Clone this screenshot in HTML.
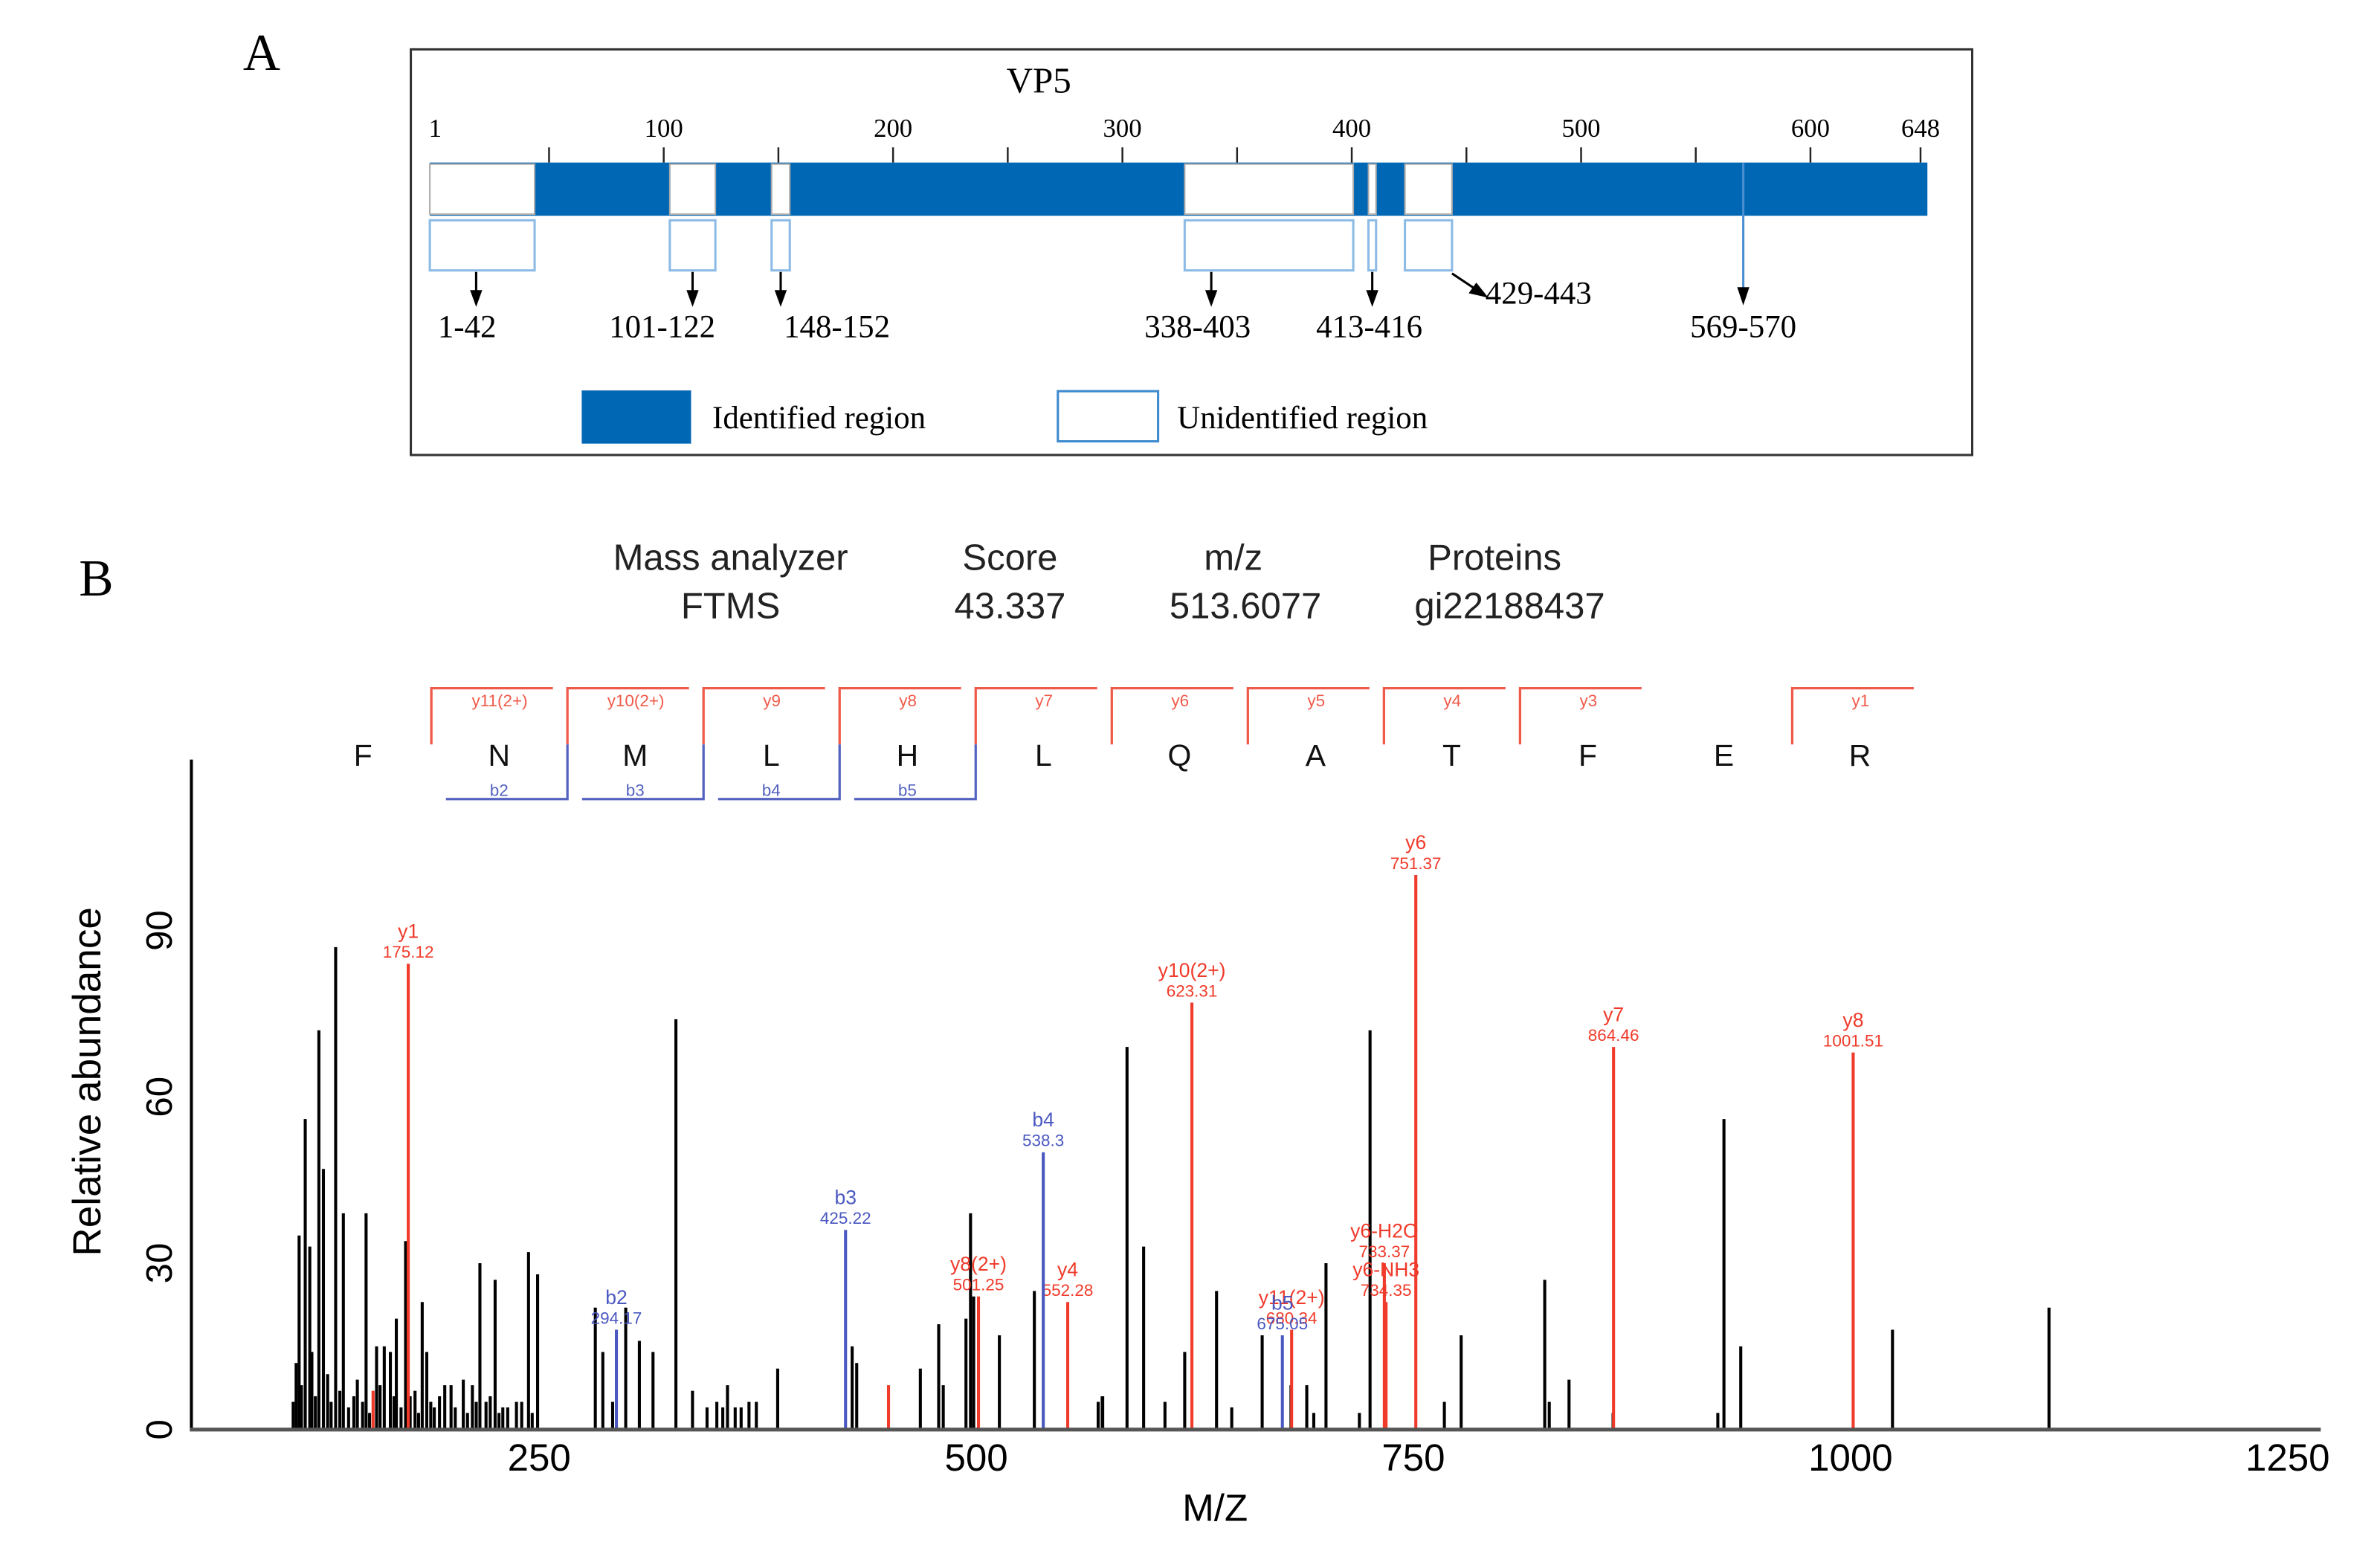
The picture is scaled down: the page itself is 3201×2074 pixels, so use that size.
<!DOCTYPE html>
<html><head><meta charset="utf-8"><style>
html,body{margin:0;padding:0;background:#fff}
svg{display:block}
.serif{font-family:"Liberation Serif",serif}
.sans{font-family:"Liberation Sans","DejaVu Sans",sans-serif}
</style></head><body>
<svg id="fig" width="3201" height="2074" viewBox="0 0 1567 1015" preserveAspectRatio="none" xmlns="http://www.w3.org/2000/svg">
<g id="panelA">
<text x="160" y="46" class="serif" font-size="34">A</text>
<rect x="270.5" y="32.5" width="1028" height="267" fill="none" stroke="#333" stroke-width="1.5"/>
<text x="684" y="61" class="serif" font-size="24" text-anchor="middle">VP5</text>
<g id="scale"></g>
<g id="bar"></g>
<g id="regions"></g>
<rect x="383" y="257" width="72" height="35" fill="#0067b5"/>
<text x="469" y="282" class="serif" font-size="21">Identified region</text>
<rect x="696.5" y="257.5" width="66" height="33" fill="#fff" stroke="#3d8ad0" stroke-width="1.5"/>
<text x="775" y="282" class="serif" font-size="21">Unidentified region</text>
</g>
<g id="panelB">
<text x="52" y="392" class="serif" font-size="34">B</text>
<g class="sans" font-size="24" text-anchor="middle" fill="#222">
<text x="481" y="375">Mass analyzer</text>
<text x="481" y="407">FTMS</text>
<text x="665" y="375">Score</text>
<text x="665" y="407">43.337</text>
<text x="812" y="375">m/z</text>
<text x="820" y="407">513.6077</text>
<text x="984" y="375">Proteins</text>
<text x="994" y="407">gi22188437</text>
</g>
<g id="seq"></g>
<g id="chart"></g>
</g>
</svg>
<script>
// ---------- Panel A data ----------
const scaleTicks = [50,100,150,200,250,300,350,400,450,500,550,600,648];
const scaleLabels = ["1","100","200","300","400","500","600","648"];
const scaleLabelPos = [1,100,200,300,400,500,600,648];
const gapStarts = [1,101,148,338,413,429];
const gapEnds = [42,122,152,403,416,443];
const gapLabels = ["1-42","101-122","148-152","338-403","413-416","429-443"];
const pointSite = [569,570];

// ---------- Panel B data ----------
const seqLetters = ["F","N","M","L","H","L","Q","A","T","F","E","R"];
const yIons = ["y11(2+)","y10(2+)","y9","y8","y7","y6","y5","y4","y3","","y1"];
const bIons = ["b2","b3","b4","b5"];
const blackMz = [109.3,112.7,116.2,118.8,124.0,126.6,133.6,138.0,151.0,157.0,161.4,164.9,168.3,173.6,176.2,183.1,185.7,199.6,206.6,211.8,216.1,219.6,224.8,229.2,237.0,243.9,249.1,282.1,286.4,299.5,307.3,315.1,328.2,337.7,351.6,357.7,362.1,365.5,374.2,386.4,429.0,431.6,468.0,478.5,481.1,494.1,496.7,498.5,513.2,533.2,569.7,572.3,586.2,595.7,607.9,619.2,637.4,646.1,663.5,680.0,693.0,700.0,719.1,725.2,767.7,777.3,825.1,827.7,839.0,864.2,924.1,927.6,937.2,1024.0,1113.5,
 111,114,120,122,129,131,136,141,144,146,149,153,159,167,171,179,181,188,190,193,196,202,209,214,222,227,232,240,246,
 292,346,370,355,689,572];
const blackInt = [5,35,56,33,72,47,87,39,39,15,15,14,20,34,6,23,14,8,9,8,30,5,27,4,5,32,28,22,14,22,16,14,74,7,5,8,4,4,5,11,15,12,11,19,8,20,39,24,17,25,5,6,69,33,5,14,25,4,17,8,3,30,3,72,5,17,27,5,9,3,3,56,15,18,22,
 12,8,14,6,10,5,7,4,6,9,5,3,8,6,4,7,3,5,4,6,8,4,3,5,6,3,4,5,3,
 5,4,5,4,8,6];
const redMz = [155.0,175.12,449.8,501.25,552.28,623.31,680.34,733.37,734.35,751.37,864.46,1001.51];
const redInt = [7,84,8,24,23,77,18,30,23,100,69,68];
const redName = ["","y1","","y8(2+)","y4","y10(2+)","y11(2+)","y6-H2O","y6-NH3","y6","y7","y8"];
const redVal = ["","175.12","","501.25","552.28","623.31","680.34","733.37","734.35","751.37","864.46","1001.51"];
const blueMz = [294.17,425.22,538.3,675.05];
const blueInt = [18,36,50,17];
const blueName = ["b2","b3","b4","b5"];
const blueVal = ["294.17","425.22","538.3","675.05"];
const xTicks = [250,500,750,1000,1250];
const yTicks = [0,30,60,90];

const NS="http://www.w3.org/2000/svg";
function mk(parent,tag,attrs,text){const e=document.createElementNS(NS,tag);for(const k in attrs)e.setAttribute(k,attrs[k]);if(text!==undefined)e.textContent=text;parent.appendChild(e);return e;}

// Panel A: tick scale (linear) and bar scale (piecewise, as drawn in the source figure)
const rx = r => 286 + r*1.51;
const knotR=[1,42,101,122,148,152,338,403,413,416,429,443,569,648];
const knotP=[283,352,441,471,508,520,780,891,901,906,925,956,1147,1269];
function bx(r){for(let i=0;i<knotR.length-1;i++){if(r<=knotR[i+1]){const t=(r-knotR[i])/(knotR[i+1]-knotR[i]);return knotP[i]+t*(knotP[i+1]-knotP[i]);}}return knotP[knotP.length-1];}
const arrowShift=[-4,0,0,-38,0,0];
const labelShift=[-6,-20,37,-9,-2,0];

const sc=document.getElementById('scale');
scaleTicks.forEach(t=>{const l=mk(sc,'line',{x1:rx(t),x2:rx(t),y1:97,y2:107,stroke:'#222','stroke-width':1.2});

});
scaleLabels.forEach((s,i)=>{const t=mk(sc,'text',{x:rx(scaleLabelPos[i])-(i==0?1:0),y:90,'font-size':17,'text-anchor':'middle',class:'serif'},s);

});
const bar=document.getElementById('bar');
const b0=mk(bar,'rect',{x:bx(1),y:107,width:bx(648)-bx(1),height:35,fill:'#0067b5'});


const rg=document.getElementById('regions');
gapStarts.forEach((s,i)=>{const x1=bx(s),x2=bx(gapEnds[i]);
const w=mk(bar,'rect',{x:x1,y:108,width:Math.max(x2-x1,3),height:33,fill:'#fff',stroke:'#aaa','stroke-width':1});


const o=mk(rg,'rect',{x:x1,y:145,width:Math.max(x2-x1,3),height:33,fill:'none',stroke:'#8cbbe6','stroke-width':1.5});


const cx=(x1+x2)/2+arrowShift[i];
if(i==5){const a=mk(rg,'path',{d:`M${x2} 180 L${x2+18} 192`,stroke:'#000','stroke-width':1.5});


const h=mk(rg,'path',{d:`M${x2+24} 196 l-13 -3 l5 -7 z`,fill:'#000'});


const t=mk(rg,'text',{x:x2+22,y:200,'font-size':21,class:'serif'},gapLabels[i]);

}
else{const a=mk(rg,'line',{x1:cx,x2:cx,y1:179,y2:192,stroke:'#000','stroke-width':1.5});


const h=mk(rg,'path',{d:`M${cx-4} 191 L${cx+4} 191 L${cx} 202 z`,fill:'#000'});


const t=mk(rg,'text',{x:cx+labelShift[i],y:222,'font-size':21,'text-anchor':'middle',class:'serif'},gapLabels[i]);

}
});
{const px=bx((pointSite[0]+pointSite[1])/2);
const l=mk(rg,'line',{x1:px,x2:px,y1:107,y2:192,stroke:'#4a8fd0','stroke-width':1.5});


const h=mk(rg,'path',{d:`M${px-4} 189 L${px+4} 189 L${px} 201 z`,fill:'#000'});


const t=mk(rg,'text',{x:px,y:222,'font-size':21,'text-anchor':'middle',class:'serif'},pointSite.join('-'));

}

// Panel B sequence map
const seq=document.getElementById('seq');
const lx=i=>239+i*89.6;
seqLetters.forEach((c,i)=>{const t=mk(seq,'text',{x:lx(i),y:504,'font-size':20,'text-anchor':'middle',class:'sans',fill:'#111'},c);

});
yIons.forEach((n,i)=>{if(!n)return;const x0=lx(i)+45;
const p=mk(seq,'path',{d:`M${x0} 490 V453 H${x0+80}`,fill:'none',stroke:'#f05a4a','stroke-width':1.6});


const t=mk(seq,'text',{x:x0+45,y:465,'font-size':11,'text-anchor':'middle',class:'sans',fill:'#f05a4a'},n);

});
bIons.forEach((n,i)=>{const x1=lx(i+1)+45;
const p=mk(seq,'path',{d:`M${x1-80} 526 H${x1} V490`,fill:'none',stroke:'#5563c0','stroke-width':1.6});


const t=mk(seq,'text',{x:x1-45,y:524,'font-size':11,'text-anchor':'middle',class:'sans',fill:'#5563c0'},n);

});

// Chart
const ch=document.getElementById('chart');
const xS=m=>355+(m-250)*1.1512;
const yS=v=>941-v*3.65;
blackMz.forEach((m,i)=>{const l=mk(ch,'line',{x1:xS(m),x2:xS(m),y1:941,y2:yS(blackInt[i]),stroke:'#000','stroke-width':2});

});
function ions(mz,it,nm,vl,col,nameKey){mz.forEach((m,i)=>{const x=xS(m),y=yS(it[i]);
const l=mk(ch,'line',{x1:x,x2:x,y1:941,y2:y,stroke:col,'stroke-width':2});


if(nm[i]){const t=mk(ch,'text',{x:x,y:y-17,'font-size':13,'text-anchor':'middle',class:'sans',fill:col},nm[i]);


const v=mk(ch,'text',{x:x,y:y-4,'font-size':11,'text-anchor':'middle',class:'sans',fill:col},vl[i]);

}});}
ions(redMz,redInt,redName,redVal,'#f03a2a','peak-y-ion');
ions(blueMz,blueInt,blueName,blueVal,'#4a58c0','peak-b-ion');
const ya=mk(ch,'line',{x1:126,x2:126,y1:500,y2:942,stroke:'#000','stroke-width':2});


const xa=mk(ch,'line',{x1:125,x2:1528,y1:941,y2:941,stroke:'#555','stroke-width':2.5});


xTicks.forEach(t=>{const e=mk(ch,'text',{x:xS(t),y:968,'font-size':25,'text-anchor':'middle',class:'sans'},t);

});
yTicks.forEach(t=>{const y=yS(t);const e=mk(ch,'text',{x:113,y:y,'font-size':24,'text-anchor':'middle',class:'sans',transform:`rotate(-90 113 ${y})`},t);

});
const xt=mk(ch,'text',{x:800,y:1001,'font-size':25,'text-anchor':'middle',class:'sans'},'M/Z');


const yt=mk(ch,'text',{x:66,y:712,'font-size':26,'text-anchor':'middle',class:'sans',transform:'rotate(-90 66 712)'},'Relative abundance');


</script>
</body></html>
